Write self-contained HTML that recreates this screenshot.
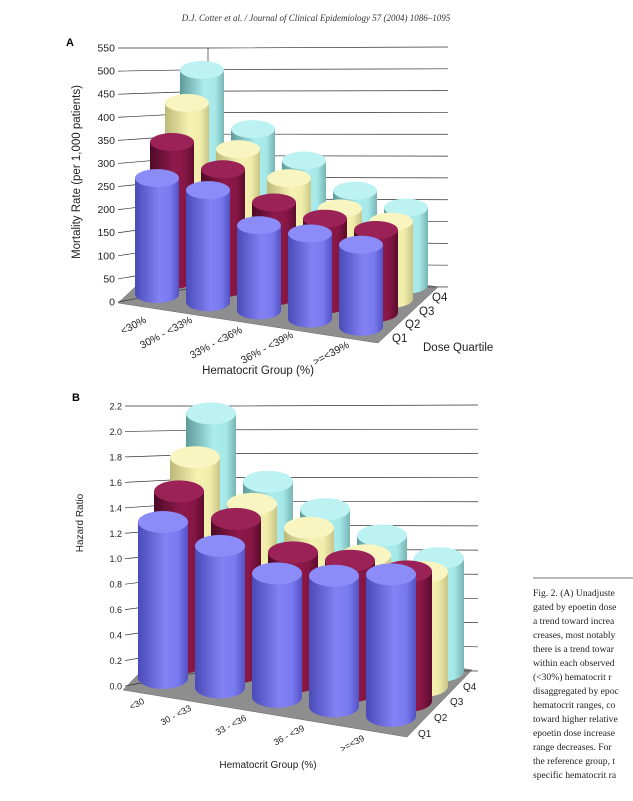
<!DOCTYPE html>
<html><head><meta charset="utf-8">
<style>
body{margin:0;background:#fff;}
svg{display:block;font-family:"Liberation Sans",sans-serif;}
.cap{font-family:"Liberation Serif",serif;font-size:9.6px;fill:#222;}
</style></head>
<body>
<svg id="svg" width="633" height="801" viewBox="0 0 633 801" xmlns="http://www.w3.org/2000/svg">
<defs>
<linearGradient id="g0" x1="0" x2="1"><stop offset="0" stop-color="#4a4ab8"/><stop offset="0.55" stop-color="#8282f4"/><stop offset="0.8" stop-color="#7a7af0"/><stop offset="1" stop-color="#5252c4"/></linearGradient>
<linearGradient id="g1" x1="0" x2="1"><stop offset="0" stop-color="#4e0a26"/><stop offset="0.55" stop-color="#8e1a4c"/><stop offset="0.8" stop-color="#861644"/><stop offset="1" stop-color="#5a0c2c"/></linearGradient>
<linearGradient id="g2" x1="0" x2="1"><stop offset="0" stop-color="#bdb97a"/><stop offset="0.55" stop-color="#f6f2b2"/><stop offset="0.8" stop-color="#f0ecaa"/><stop offset="1" stop-color="#c8c486"/></linearGradient>
<linearGradient id="g3" x1="0" x2="1"><stop offset="0" stop-color="#5e9a9a"/><stop offset="0.55" stop-color="#acecec"/><stop offset="0.8" stop-color="#a6e8e8"/><stop offset="1" stop-color="#78b4b4"/></linearGradient>
</defs>
<text x="316" y="21" text-anchor="middle" font-family="Liberation Serif,serif" font-style="italic" font-size="9" fill="#333">D.J. Cotter et al. / Journal of Clinical Epidemiology 57 (2004) 1086–1095</text>
<text x="66" y="46" font-weight="bold" font-size="11">A</text>
<text x="72" y="401" font-weight="bold" font-size="11">B</text>
<g id="chartA"></g>
<g id="chartB"></g>
<line x1="533" y1="578" x2="633" y2="578" stroke="#444" stroke-width="0.8"/>
<g id="caption">
<text class="cap" x="533" y="596">Fig. 2.  (A) Unadjuste</text>
<text class="cap" x="533" y="610">gated by epoetin dose</text>
<text class="cap" x="533" y="624">a trend toward increa</text>
<text class="cap" x="533" y="638">creases, most notably</text>
<text class="cap" x="533" y="652">there is a trend towar</text>
<text class="cap" x="533" y="666">within each observed</text>
<text class="cap" x="533" y="680">(&lt;30%) hematocrit r</text>
<text class="cap" x="533" y="694">disaggregated by epoc</text>
<text class="cap" x="533" y="708">hematocrit ranges, co</text>
<text class="cap" x="533" y="722">toward higher relative</text>
<text class="cap" x="533" y="736">epoetin dose increase</text>
<text class="cap" x="533" y="750">range decreases. For</text>
<text class="cap" x="533" y="764">the reference group, t</text>
<text class="cap" x="533" y="778">specific hematocrit ra</text>
</g>
</svg>
<script>
// Panel A data
const groupsA = ["<30%","30% - <33%","33% - <36%","36% - <39%",">=<39%"];
const quartiles = ["Q1","Q2","Q3","Q4"];
const mortQ1 = [305,295,224,224,216];
const mortQ2 = [363,313,247,226,218];
const mortQ3 = [429,329,274,216,203];
const mortQ4 = [479,345,284,226,203];
const ticksA = [0,50,100,150,200,250,300,350,400,450,500,550];
// Panel B data
const groupsB = ["<30","30 - <33","33 - <36","36 - <39",">=<39"];
const hrQ1 = [1.30,1.18,1.03,1.09,1.18];
const hrQ2 = [1.43,1.28,1.08,1.09,1.08];
const hrQ3 = [1.59,1.28,1.16,1.01,0.95];
const hrQ4 = [1.83,1.34,1.19,1.05,0.94];
const ticksB = [0.0,0.2,0.4,0.6,0.8,1.0,1.2,1.4,1.6,1.8,2.0,2.2];

const NS="http://www.w3.org/2000/svg";
function mk(parent,tag,attrs){const e=document.createElementNS(NS,tag);for(const k in attrs)e.setAttribute(k,attrs[k]);parent.appendChild(e);return e;}

function drawChart(g,cfg,series,groups,ticks,fmt){
  const axY=v=>cfg.axBot-(v-ticks[0])/(ticks[ticks.length-1]-ticks[0])*(cfg.axBot-cfg.axTop);
  const cY=v=>cfg.cBot-(v-ticks[0])/(ticks[ticks.length-1]-ticks[0])*(cfg.cBot-cfg.axTop);
  const rY=v=>cfg.rBot-(v-ticks[0])/(ticks[ticks.length-1]-ticks[0])*(cfg.rBot-cfg.rTop);
  const fl=cfg.floor;
  const floor=mk(g,'polygon',{points:fl.map(p=>p.join(',')).join(' '),fill:'#8e8e8e',stroke:'#666','stroke-width':0.5});
  
  
  ticks.forEach(v=>{
    const gl=mk(g,'polyline',{points:`${cfg.axX},${axY(v)} ${cfg.cX},${cY(v)} ${cfg.rX},${rY(v)}`,fill:'none',stroke:'#333','stroke-width':0.7});
    
    
    const t=mk(g,'text',{x:cfg.axX-3,y:axY(v)+3.5,'text-anchor':'end','font-size':cfg.fs,fill:'#222'});
    t.textContent=fmt(v);
    
    
  });
  const cl=mk(g,'line',{x1:cfg.cX,y1:cY(ticks[ticks.length-1]),x2:cfg.cX,y2:cY(ticks[ticks.length-1])+cfg.cornerLen,stroke:'#333','stroke-width':0.7});
  
  
  for(let j=series.length-1;j>=0;j--){
    for(let i=0;i<groups.length;i++){
      const cx=cfg.x0+i*cfg.dxi+j*cfg.dxj, by=cfg.y0+i*cfg.dyi+j*cfg.dyj;
      const h=series[j][i]*cfg.k, ty=by-h, rx=cfg.rx, ry=cfg.ry;
      const cg=mk(g,'g',{});
      
      
      mk(cg,'path',{d:`M${cx-rx},${ty} L${cx-rx},${by} A${rx},${ry} 0 0 0 ${cx+rx},${by} L${cx+rx},${ty} Z`,fill:`url(#g${j})`});
      mk(cg,'ellipse',{cx:cx,cy:ty,rx:rx,ry:ry,fill:cfg.tops[j]});
    }
  }
  groups.forEach((s,i)=>{
    const p=cfg.xl[i];
    const t=mk(g,'text',{x:p[0],y:p[1],'text-anchor':'end','font-size':cfg.fs,fill:'#222',transform:`rotate(-28 ${p[0]} ${p[1]})`});
    t.textContent=s;
    
    
  });
  quartiles.forEach((q,j)=>{
    const p=cfg.ql[j];
    const t=mk(g,'text',{x:p[0],y:p[1],'font-size':cfg.fs+1,fill:'#222'});
    t.textContent=q;
    
    
  });
  const xt=mk(g,'text',{x:cfg.xt[0],y:cfg.xt[1],'text-anchor':'middle','font-size':cfg.fs+1,fill:'#222'});
  xt.textContent='Hematocrit Group (%)';
  
  
  const yt=mk(g,'text',{x:cfg.yt[0],y:cfg.yt[1],'text-anchor':'middle','font-size':cfg.fs+1,fill:'#222',transform:`rotate(-90 ${cfg.yt[0]} ${cfg.yt[1]})`});
  yt.textContent=cfg.ytitle;
  
  
  if(cfg.dq){
    const d=mk(g,'text',{x:cfg.dq[0],y:cfg.dq[1],'font-size':cfg.fs+1,fill:'#222'});
    d.textContent='Dose Quartile';
    
    
  }
}
const tops=['#8c8cf8','#9a2256','#f8f5c0','#bcf2f2'];
drawChart(document.getElementById('chartA'),{
  axX:118,axTop:48,axBot:302,cX:208,cBot:285,cornerLen:20,rX:448,rTop:47,rBot:287,
  floor:[[118,303],[378,343],[438,287],[178,247]],
  x0:157,y0:294,dxi:51,dyi:8.2,dxj:15,dyj:-14,k:0.38,rx:22,ry:9,tops:tops,fs:10.5,
  xl:[[147,322],[193,322],[243,332],[294,337],[350,347]],
  ql:[[392,342],[405,328],[419,315],[432,301]],
  xt:[258,374],yt:[80,172],ytitle:'Mortality Rate (per 1,000 patients)',dq:[423,351]
},[mortQ1,mortQ2,mortQ3,mortQ4],groupsA,ticksA,v=>String(v));
drawChart(document.getElementById('chartB'),{
  axX:125,axTop:406,axBot:686,cX:222,cBot:668,cornerLen:8,rX:478,rTop:405,rBot:671,
  floor:[[123,690],[407,737],[472,670],[188,623]],
  x0:163,y0:678,dxi:57,dyi:9.5,dxj:16,dyj:-15,k:120,rx:25,ry:11,tops:tops,fs:9,
  xl:[[145,703],[192,710],[247,720],[305,730],[365,740]],
  ql:[[418,737],[434,721],[450,705],[463,690]],
  xt:[268,768],yt:[83,523],ytitle:'Hazard Ratio',dq:null
},[hrQ1,hrQ2,hrQ3,hrQ4],groupsB,ticksB,v=>v.toFixed(1));
</script>
</body></html>
